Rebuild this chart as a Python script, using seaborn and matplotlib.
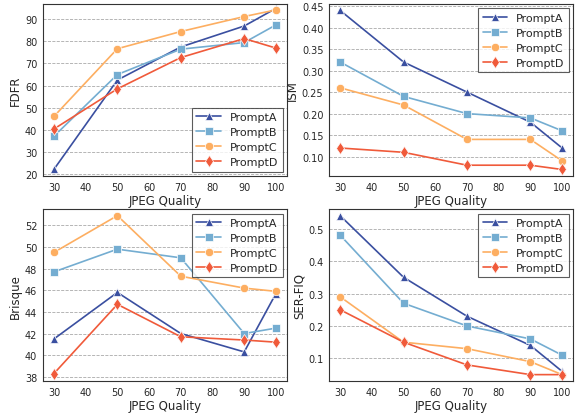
import pandas as pd
import numpy as np
import matplotlib
matplotlib.use("Agg")
import matplotlib.pyplot as plt
import seaborn as sns

quality = [30, 50, 70, 90, 100]
prompts = ["PromptA", "PromptB", "PromptC", "PromptD"]

fdfr = {
    "PromptA": [22.0, 62.5, 77.5, 87.0, 95.0],
    "PromptB": [37.0, 65.0, 76.5, 79.5, 87.5],
    "PromptC": [46.0, 76.7, 84.5, 91.3, 94.3],
    "PromptD": [40.3, 58.5, 72.7, 81.3, 77.0],
}
ism = {
    "PromptA": [0.44, 0.32, 0.25, 0.18, 0.12],
    "PromptB": [0.32, 0.24, 0.20, 0.19, 0.16],
    "PromptC": [0.26, 0.22, 0.14, 0.14, 0.09],
    "PromptD": [0.12, 0.11, 0.08, 0.08, 0.07],
}
brisque = {
    "PromptA": [41.5, 45.8, 42.0, 40.3, 45.7],
    "PromptB": [47.7, 49.8, 49.0, 42.0, 42.5],
    "PromptC": [49.5, 52.9, 47.3, 46.2, 45.9],
    "PromptD": [38.3, 44.7, 41.7, 41.4, 41.2],
}
serfiq = {
    "PromptA": [0.54, 0.35, 0.23, 0.14, 0.06],
    "PromptB": [0.48, 0.27, 0.20, 0.16, 0.11],
    "PromptC": [0.29, 0.15, 0.13, 0.09, 0.05],
    "PromptD": [0.25, 0.15, 0.08, 0.05, 0.05],
}

palette = {"PromptA": "#3a4fa0", "PromptB": "#74add1", "PromptC": "#fdae61", "PromptD": "#f05a3a"}
markers = {"PromptA": "^", "PromptB": "s", "PromptC": "o", "PromptD": "d"}


def to_long(values):
    rows = []
    for p in prompts:
        for q, v in zip(quality, values[p]):
            rows.append({"JPEG Quality": q, "value": v, "prompt": p})
    return pd.DataFrame(rows)


sns.set_style("white")
plt.rcParams["font.family"] = ["DejaVu Sans"]

fig, axes = plt.subplots(2, 2, figsize=(5.79, 4.14), dpi=100)
fig.subplots_adjust(left=0.074, right=0.99, top=0.988, bottom=0.077, wspace=0.172, hspace=0.193)

panels = [
    (axes[0, 0], fdfr, "FDFR", "lower right", [20, 30, 40, 50, 60, 70, 80, 90]),
    (axes[0, 1], ism, "ISM", "upper right", [0.10, 0.15, 0.20, 0.25, 0.30, 0.35, 0.40, 0.45]),
    (axes[1, 0], brisque, "Brisque", "upper right", [38, 40, 42, 44, 46, 48, 50, 52]),
    (axes[1, 1], serfiq, "SER-FIQ", "upper right", [0.1, 0.2, 0.3, 0.4, 0.5]),
]

for ax, data, label, loc, yticks in panels:
    df = to_long(data)
    sns.lineplot(data=df, x="JPEG Quality", y="value", hue="prompt", style="prompt",
                 palette=palette, markers=markers, dashes=False, markersize=6,
                 markeredgewidth=0.5, linewidth=1.2, ax=ax)
    ax.set_ylabel(label, fontsize=8.5, labelpad=2)
    ax.set_xlabel("JPEG Quality", fontsize=8.5, labelpad=2)
    ax.set_xticks([30, 40, 50, 60, 70, 80, 90, 100])
    ax.set_yticks(yticks)
    ax.tick_params(labelsize=7, length=2.5, width=0.6, pad=1.5)
    ax.yaxis.grid(True, linestyle="--", color="#aaaaaa", linewidth=0.6)
    ax.set_axisbelow(True)
    for s in ax.spines.values():
        s.set_color("#333333")
        s.set_linewidth(0.8)
    leg = ax.legend(loc=loc, fontsize=8, frameon=True, fancybox=False, edgecolor="#333333",
                    handlelength=2.2, labelspacing=0.45, borderaxespad=0.4)
    leg.get_frame().set_linewidth(0.8)

axes[0, 0].set_ylim(19, 97)
axes[0, 1].set_ylim(0.055, 0.455)
axes[1, 0].set_ylim(37.6, 53.5)
axes[1, 1].set_ylim(0.03, 0.56)

fig.savefig("out.png", dpi=100)
